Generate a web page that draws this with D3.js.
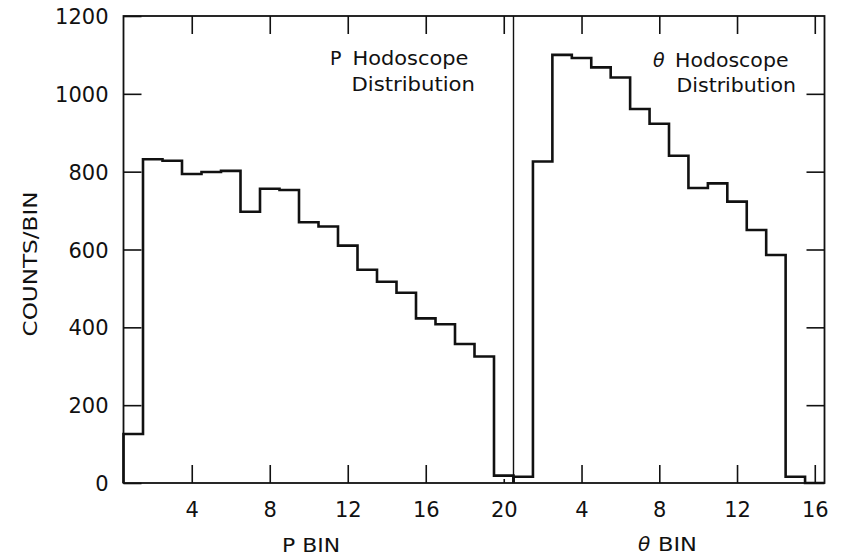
<!DOCTYPE html>
<html>
<head>
<meta charset="utf-8">
<script src="https://cdn.jsdelivr.net/npm/d3@7"></script>
<style>
  html, body { margin: 0; padding: 0; background: #fff; }
  svg { display: block; }
  text { font-family: "DejaVu Sans", "Liberation Sans", sans-serif; fill: #111; }
</style>
</head>
<body>
<svg id="chart" width="843" height="557"></svg>
<script>
// ---- data ----
const pBins = d3.range(1, 21);          // P hodoscope bins 1..20
const pCounts = [126, 832, 828, 794, 799, 802, 697, 756, 753, 670,
                 659, 610, 548, 517, 489, 423, 408, 357, 325, 19];
const thetaBins = d3.range(1, 17);      // θ hodoscope bins 1..16
const thetaCounts = [16, 826, 1100, 1092, 1068, 1042, 961, 923, 841, 758,
                     770, 723, 650, 586, 16, 0];
const yTicks = [0, 200, 400, 600, 800, 1000, 1200];
const pTicks = [4, 8, 12, 16, 20];
const thetaTicks = [4, 8, 12, 16];

// ---- layout ----
const svg = d3.select("#chart");
const plotLeft = 123.5, plotDivider = 513.5, plotRight = 824.5, plotTop = 16, plotBottom = 483;

const y = d3.scaleLinear().domain([0, 1200]).range([plotBottom, plotTop]);
const xP = d3.scaleLinear().domain([0.5, 20.5]).range([plotLeft, plotDivider]);
const xT = d3.scaleLinear().domain([0.5, 16.5]).range([plotDivider, plotRight]);

const line = d3.line();
function stepPoints(bins, counts, xs) {
  const pts = [[xs(bins[0] - 0.5), y(0)]];
  bins.forEach((b, i) => {
    pts.push([xs(b - 0.5), y(counts[i])]);
    pts.push([xs(b + 0.5), y(counts[i])]);
  });
  pts.push([xs(bins[bins.length - 1] + 0.5), y(0)]);
  return pts;
}

// histograms
svg.append("path").attr("d", line(stepPoints(pBins, pCounts, xP)))
  .attr("fill", "none").attr("stroke", "#111").attr("stroke-width", 2.6)
  .attr("stroke-linejoin", "miter");
svg.append("path").attr("d", line(stepPoints(thetaBins, thetaCounts, xT)))
  .attr("fill", "none").attr("stroke", "#111").attr("stroke-width", 2.6)
  .attr("stroke-linejoin", "miter");

// axes (ticks inward)
function styleAxis(g) {
  g.select(".domain").remove();
  g.selectAll(".tick line").attr("stroke", "#111").attr("stroke-width", 1.6);
  g.selectAll(".tick text").attr("font-size", 21).attr("fill", "#111")
    .attr("font-family", "DejaVu Sans, sans-serif");
}

svg.append("g").attr("transform", `translate(${plotLeft},0)`)
  .call(d3.axisLeft(y).tickValues(yTicks).tickSize(-18).tickPadding(15).tickFormat(d3.format("d")))
  .call(styleAxis)
  .call(g => g.selectAll(".tick text").attr("dy", "0.36em"));

svg.append("g").attr("transform", `translate(${plotRight},0)`)
  .call(d3.axisRight(y).tickValues(yTicks.slice(1, 6)).tickSize(-18).tickFormat(""))
  .call(styleAxis);

svg.append("g").attr("transform", `translate(0,${plotTop})`)
  .call(d3.axisTop(xP).tickValues(pTicks).tickSize(-18).tickFormat(""))
  .call(styleAxis);
svg.append("g").attr("transform", `translate(0,${plotTop})`)
  .call(d3.axisTop(xT).tickValues(thetaTicks).tickSize(-18).tickFormat(""))
  .call(styleAxis);

svg.append("g").attr("transform", `translate(0,${plotBottom})`)
  .call(d3.axisBottom(xP).tickValues(pTicks).tickSize(-18).tickPadding(19))
  .call(styleAxis)
  .call(g => g.selectAll(".tick").filter(d => d === 20).select("line").attr("y2", -4));
svg.append("g").attr("transform", `translate(0,${plotBottom})`)
  .call(d3.axisBottom(xT).tickValues(thetaTicks).tickSize(-18).tickPadding(19))
  .call(styleAxis);

// frame and divider
svg.append("rect").attr("x", plotLeft).attr("y", plotTop)
  .attr("width", plotRight - plotLeft).attr("height", plotBottom - plotTop)
  .attr("fill", "none").attr("stroke", "#111").attr("stroke-width", 1.8);
svg.append("line").attr("x1", plotDivider).attr("x2", plotDivider)
  .attr("y1", plotTop).attr("y2", plotBottom)
  .attr("stroke", "#111").attr("stroke-width", 1.4);

// axis titles
svg.append("text").attr("transform", "translate(37,264) rotate(-90)")
  .attr("text-anchor", "middle").attr("font-size", 20)
  .attr("textLength", 145).attr("lengthAdjust", "spacingAndGlyphs")
  .text("COUNTS/BIN");
svg.append("text").attr("x", 282).attr("y", 551.5).attr("font-size", 20)
  .attr("textLength", 58).attr("lengthAdjust", "spacingAndGlyphs")
  .text("P BIN");
svg.append("text").attr("x", 638).attr("y", 551).attr("font-size", 20)
  .attr("font-style", "italic").text("θ");
svg.append("text").attr("x", 658).attr("y", 551).attr("font-size", 20)
  .attr("textLength", 39).attr("lengthAdjust", "spacingAndGlyphs")
  .text("BIN");

// annotations
svg.append("text").attr("x", 330).attr("y", 65).attr("font-size", 19).text("P");
svg.append("text").attr("x", 352.5).attr("y", 65).attr("font-size", 19)
  .attr("textLength", 116).attr("lengthAdjust", "spacingAndGlyphs").text("Hodoscope");
svg.append("text").attr("x", 351.5).attr("y", 91).attr("font-size", 19)
  .attr("textLength", 123.5).attr("lengthAdjust", "spacingAndGlyphs").text("Distribution");

svg.append("text").attr("x", 653).attr("y", 66.5).attr("font-size", 19)
  .attr("font-style", "italic").text("θ");
svg.append("text").attr("x", 675).attr("y", 66.5).attr("font-size", 19)
  .attr("textLength", 113.5).attr("lengthAdjust", "spacingAndGlyphs").text("Hodoscope");
svg.append("text").attr("x", 676.5).attr("y", 92).attr("font-size", 19)
  .attr("textLength", 119.5).attr("lengthAdjust", "spacingAndGlyphs").text("Distribution");
</script>
</body>
</html>
